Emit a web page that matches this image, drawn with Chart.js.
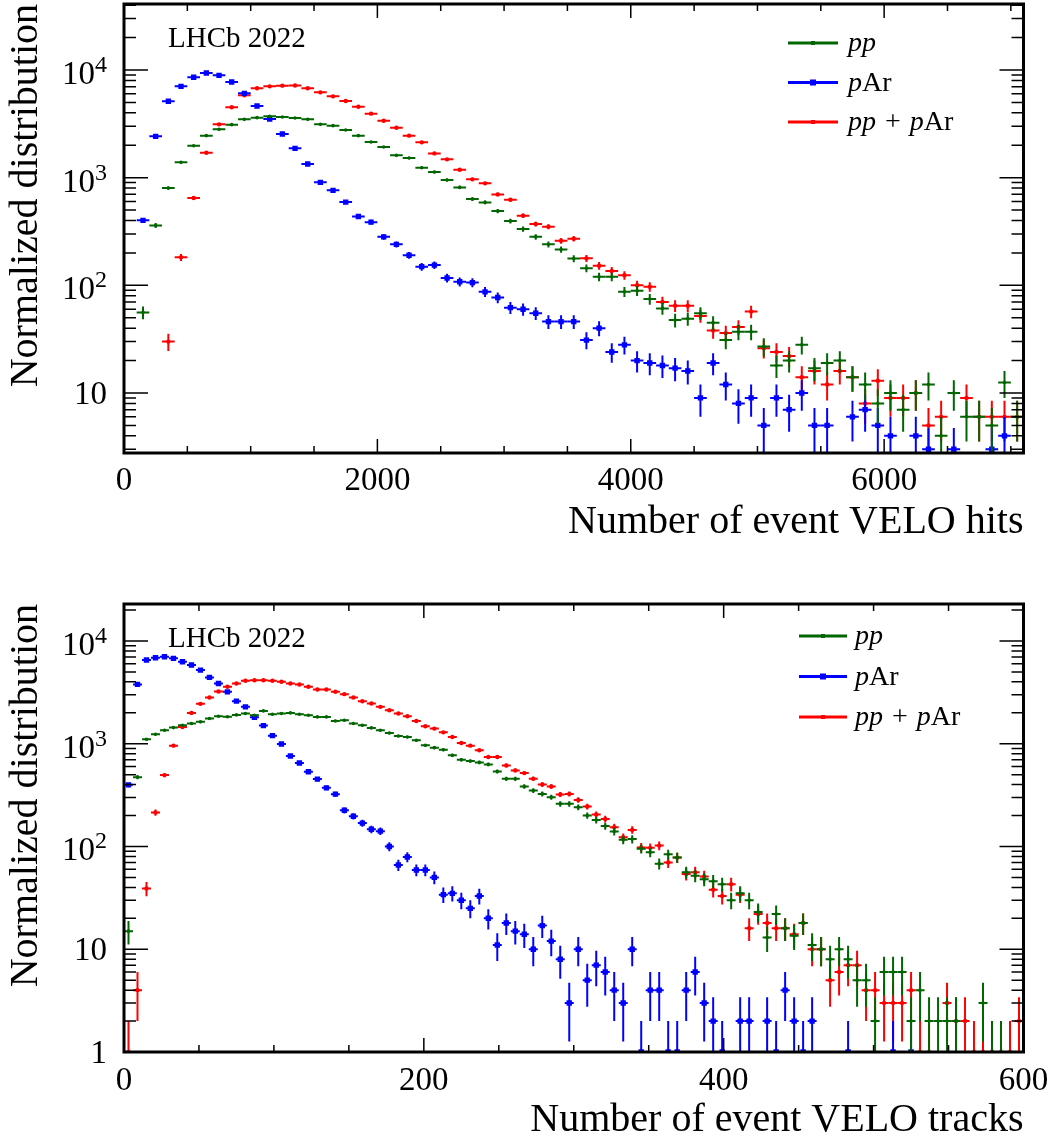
<!DOCTYPE html>
<html>
<head>
<meta charset="utf-8">
<script src="https://cdn.jsdelivr.net/npm/chart.js@4.4.1/dist/chart.umd.min.js"></script>
<style>
  html, body { margin: 0; padding: 0; background: #fff; }
  canvas { display: block; }
</style>
</head>
<body>
<canvas id="hitsChart" width="1054" height="571"></canvas>
<canvas id="tracksChart" width="1054" height="571"></canvas>
<script>
// ---- data: bin centres ----
const hitsBins = [
  150, 250, 350, 450, 550, 650, 750, 850, 950, 1050,
  1150, 1250, 1350, 1450, 1550, 1650, 1750, 1850, 1950, 2050,
  2150, 2250, 2350, 2450, 2550, 2650, 2750, 2850, 2950, 3050,
  3150, 3250, 3350, 3450, 3550, 3650, 3750, 3850, 3950, 4050,
  4150, 4250, 4350, 4450, 4550, 4650, 4750, 4850, 4950, 5050,
  5150, 5250, 5350, 5450, 5550, 5650, 5750, 5850, 5950, 6050,
  6150, 6250, 6350, 6450, 6550, 6650, 6750, 6850, 6950, 7050
];
const tracksBins = [
  3, 9, 15, 21, 27, 33, 39, 45, 51, 57,
  63, 69, 75, 81, 87, 93, 99, 105, 111, 117,
  123, 129, 135, 141, 147, 153, 159, 165, 171, 177,
  183, 189, 195, 201, 207, 213, 219, 225, 231, 237,
  243, 249, 255, 261, 267, 273, 279, 285, 291, 297,
  303, 309, 315, 321, 327, 333, 339, 345, 351, 357,
  363, 369, 375, 381, 387, 393, 399, 405, 411, 417,
  423, 429, 435, 441, 447, 453, 459, 465, 471, 477,
  483, 489, 495, 501, 507, 513, 519, 525, 531, 537,
  543, 549, 555, 561, 567, 573, 579, 585, 591, 597
];

// ---- data: VELO hits (top panel) ----
const hitsPP = [
  56, 360, 800, 1387, 1981, 2454, 2810, 3105, 3478, 3606,
  3710, 3657, 3580, 3478, 3126, 3040, 2770, 2454, 2143, 1925,
  1610, 1521, 1237, 1127, 950, 812, 632, 589, 490, 395,
  333, 282, 240, 215, 177, 144, 120, 120, 87, 89,
  74.5, 61, 47.5, 49, 55, 45, 31, 37, 37, 27,
  18, 20, 28, 17, 19, 20, 14, 12, 8, 10,
  7, 10, 12, 4, 10, 6, 6, 5, 12.5, 6
];
const hitsPAr = [
  401, 2418, 5117, 7047, 8550, 9380, 8920, 7735, 6070, 4628,
  3503, 2542, 1871, 1338, 904, 762, 593, 436, 386, 282,
  240, 190, 149, 154, 117, 108, 106, 87, 77, 62,
  60, 55, 46, 46, 46, 31, 40, 24, 28, 20,
  19, 18, 17, 16, 9, 19, 12, 8, 9, 5,
  9, 7, 10, 5, 5, null, 6, 7, 5, 4,
  null, 4, 3, null, 3, null, null, 3, 4, null
];
const hitsSum = [
  null, null, 30, 182, 646, 1705, 3126, 4500, 5815, 6758,
  7047, 7155, 7180, 6760, 6200, 5690, 5150, 4560, 3930, 3380,
  2911, 2454, 2128, 1680, 1479, 1185, 964, 885, 699, 623,
  443, 371, 350, 259, 271, 178, 152, 136, 124, 100,
  97, 70, 64.5, 64.5, 52, 38, 36, 41, 57, 26,
  24, 22, 14, 16, 12, 16, 14, 8, 13, 9,
  9, 10, 5, 6, null, 9, 6, 6, 6, 6
];

// ---- data: VELO tracks (bottom panel) ----
const tracksPP = [
  15, 473, 1104, 1236, 1352, 1436, 1513, 1571, 1632, 1758,
  1852, 1830, 1908, 1966, 1894, 2088, 1937, 1966, 1995, 1937,
  1894, 1825, 1825, 1667, 1690, 1571, 1513, 1426, 1352, 1273,
  1190, 1164, 1080, 965, 916, 875, 771, 699, 678, 658,
  629, 537, 456, 455, 384, 351, 325, 302, 260, 260,
  241, 200, 181, 158, 140, 116, 118, 95, 88, 68,
  84, 78, 56, 52, 48, 46, 43, 30, 35, 30,
  23, 13, 22, 16, 13.5, 18, 11, 10, 8, 10,
  8, 5, 5, 2, 6, 6, 6, 2, 4, 2,
  2, 2, 2, null, null, 3, 1, 1, null, null
];
const tracksPAr = [
  398, 3776, 6524, 6875, 7030, 6776, 6282, 5830, 5207, 4419,
  3860, 3200, 2595, 2285, 1811, 1501, 1199, 994, 759, 649,
  534, 453, 372, 323, 225, 197, 169, 147, 141, 100,
  66, 79, 59, 59, 50, 34, 35, 30, 25, 33,
  20, 11, 18, 15, 14, 10, 17, 12, 8, 3,
  10, 5, 7, 6, 4, 3, 10, 1, 4, 4,
  1, 1, 4, 6, 3, 2, 1, null, 2, 2,
  null, 2, 1, 4, 2, 1, 2, null, null, null,
  1, null, null, null, null, 1, null, 1, null, null,
  null, null, null, null, null, null, null, null, null, null
];
const tracksSum = [
  1, 4, 39, 214, 495, 958, 1457, 1995, 2443, 2818,
  3225, 3581, 3860, 4100, 4150, 4150, 4100, 4010, 3860, 3776,
  3581, 3373, 3373, 3200, 3037, 2818, 2595, 2462, 2285, 2119,
  1966, 1852, 1667, 1479, 1403, 1290, 1164, 1017, 958, 863,
  742, 742, 615, 550, 518, 456, 401, 384, 321, 325,
  284, 245, 205, 185, 154, 123, 145, 98, 97, 102,
  70, 78, 54, 56, 51, 38, 33, 43, 34, 16,
  22, 18, 16, 16, 14, 18, 10, 10, 5, 6,
  7, 7, 4, 4, 3, 3, 3, 4, 1, 1,
  null, 3, 2, 2, 1, 1, 1, 1, 1, 2
];

const seriesNames = ['pp', 'pAr', 'pp + pAr'];
const hitsXTicks = [0, 2000, 4000, 6000];
const tracksXTicks = [0, 200, 400, 600];
const hitsYTicks = [10, 100, 1000, 10000];
const tracksYTicks = [1, 10, 100, 1000, 10000];

// ---- styling ----
const FONT = '"Liberation Serif", "Times New Roman", serif';
const GREEN = '#006600';
const BLUE = '#0000ff';
const RED = '#ff0000';

const toPoints = (xs, ys) => xs.map((x, i) => ({x: x, y: ys[i]}));

// Poisson-style error bars (sqrt of the content) plus bin-width bars
const errorBars = {
  id: 'errorBars',
  beforeDatasetDraw(chart, args) {
    const ds = chart.data.datasets[args.index];
    const {ctx, chartArea, scales: {x, y}} = chart;
    const pts = ds.data;
    const half = (pts[1].x - pts[0].x) / 2;
    ctx.save();
    ctx.beginPath();
    ctx.rect(chartArea.left, chartArea.top, chartArea.right - chartArea.left,
             chartArea.bottom - chartArea.top);
    ctx.clip();
    ctx.strokeStyle = ds.borderColor;
    ctx.lineWidth = 2;
    ctx.lineCap = 'butt';
    for (let i = 0; i < pts.length; i++) {
      const p = pts[i];
      if (p.y === null || p.y === undefined) continue;
      const err = Math.sqrt(p.y);
      const lo = p.y - err > 0 ? p.y - err : y.min / 10;
      const px = x.getPixelForValue(p.x);
      const py = y.getPixelForValue(p.y);
      ctx.beginPath();
      ctx.moveTo(x.getPixelForValue(p.x - half), py);
      ctx.lineTo(x.getPixelForValue(p.x + half), py);
      ctx.moveTo(px, y.getPixelForValue(p.y + err));
      ctx.lineTo(px, y.getPixelForValue(lo));
      ctx.stroke();
    }
    ctx.restore();
  }
};

// ROOT-style frame with inner ticks, y labels with exponents, legend, label
const rootFrame = {
  id: 'rootFrame',
  afterDraw(chart, args, opts) {
    const {ctx, chartArea: a, scales: {x, y}} = chart;
    ctx.save();
    ctx.strokeStyle = '#000';

    // x ticks (top and bottom)
    ctx.lineWidth = 1.5;
    ctx.beginPath();
    for (let v = x.min; v <= x.max + 1e-9; v += opts.xMinor) {
      const px = x.getPixelForValue(v);
      const major = Math.abs(v / opts.xMajor - Math.round(v / opts.xMajor)) < 1e-6;
      const len = major ? 14 : 7;
      ctx.moveTo(px, a.bottom); ctx.lineTo(px, a.bottom - len);
      ctx.moveTo(px, a.top); ctx.lineTo(px, a.top + len);
    }
    // y log ticks (left and right)
    for (let d = 1e-1; d <= y.max; d *= 10) {
      for (let m = 1; m <= 9; m++) {
        const v = d * m;
        if (v < y.min || v > y.max) continue;
        const py = y.getPixelForValue(v);
        const len = m === 1 ? 24 : 12;
        ctx.moveTo(a.left, py); ctx.lineTo(a.left + len, py);
        ctx.moveTo(a.right, py); ctx.lineTo(a.right - len, py);
      }
    }
    ctx.stroke();

    // frame
    ctx.lineWidth = 3;
    ctx.strokeRect(a.left, a.top, a.right - a.left, a.bottom - a.top);

    // y labels, 10^n style
    ctx.fillStyle = '#000';
    ctx.textBaseline = 'alphabetic';
    ctx.textAlign = 'right';
    const labelRight = a.left - 17;
    opts.yTicks.forEach(v => {
      const py = y.getPixelForValue(v);
      const exp = Math.round(Math.log10(v));
      if (exp <= 1) {
        ctx.font = '33px ' + FONT;
        ctx.fillText(String(v), labelRight, py + 11);
      } else {
        ctx.font = '24px ' + FONT;
        const sw = ctx.measureText(String(exp)).width;
        ctx.fillText(String(exp), labelRight, py + 2);
        ctx.font = '33px ' + FONT;
        ctx.fillText('10', labelRight - sw, py + 14);
      }
    });

    // experiment label
    ctx.textAlign = 'left';
    ctx.font = '29px ' + FONT;
    ctx.fillText('LHCb 2022', a.left + 44, a.top + opts.tagDy);

    // legend
    const lg = opts.legend;
    chart.data.datasets.forEach((ds, i) => {
      const ly = a.top + lg.top + i * lg.step;
      ctx.strokeStyle = ds.borderColor;
      ctx.lineWidth = 3;
      ctx.beginPath();
      ctx.moveTo(lg.x0, ly); ctx.lineTo(lg.x1, ly);
      ctx.stroke();
      ctx.fillStyle = ds.borderColor;
      const ms = ds.pointStyle === 'rect' ? 6 : 4;
      ctx.fillRect((lg.x0 + lg.x1) / 2 - ms / 2, ly - ms / 2, ms, ms);
      // text: p italic, the rest upright
      ctx.fillStyle = '#000';
      ctx.textBaseline = 'middle';
      let tx = lg.tx;
      for (const ch of ds.label) {
        ctx.font = (ch === 'p' ? 'italic ' : '') + '28px ' + FONT;
        ctx.fillText(ch, tx, ly + 1);
        tx += ctx.measureText(ch).width + (ch === ' ' ? 2 : 0);
      }
    });
    ctx.restore();
  }
};

function makeChart(id, cfg) {
  const datasets = [
    {label: seriesNames[0], data: toPoints(cfg.bins, cfg.series[0]),
     borderColor: GREEN, backgroundColor: GREEN, pointStyle: 'circle',
     pointRadius: 1.8},
    {label: seriesNames[1], data: toPoints(cfg.bins, cfg.series[1]),
     borderColor: BLUE, backgroundColor: BLUE, pointStyle: 'rect',
     pointRadius: 3.8},
    {label: seriesNames[2], data: toPoints(cfg.bins, cfg.series[2]),
     borderColor: RED, backgroundColor: RED, pointStyle: 'circle',
     pointRadius: 2.2}
  ];
  datasets.forEach(d => { d.showLine = false; d.pointBorderWidth = 0; d.pointHoverRadius = 0; });

  return new Chart(document.getElementById(id), {
    type: 'scatter',
    data: {datasets: datasets},
    options: {
      responsive: false,
      animation: false,
      events: [],
      layout: {padding: {left: 0, right: 30.5, top: cfg.padTop, bottom: 0}},
      plugins: {
        legend: {display: false},
        tooltip: {enabled: false},
        rootFrame: {
          xMajor: cfg.xMajor, xMinor: cfg.xMinor, yTicks: cfg.yTicks,
          tagDy: 43, legend: cfg.legend
        }
      },
      scales: {
        x: {
          type: 'linear', min: cfg.xMin, max: cfg.xMax,
          grid: {display: false, drawTicks: false},
          border: {display: false},
          afterBuildTicks: s => { s.ticks = cfg.xTicks.map(v => ({value: v})); },
          ticks: {autoSkip: false, maxRotation: 0, padding: 5, color: '#000',
                  callback: v => String(v),
                  font: {family: FONT, size: 33, lineHeight: cfg.tickLH}},
          title: {display: true, text: cfg.xTitle, align: 'end', color: '#000',
                  font: {family: FONT, size: 40},
                  padding: {top: 0, bottom: cfg.xTitlePad}},
          afterFit: s => { s.height = cfg.xAxisH; }
        },
        y: {
          type: 'logarithmic', min: cfg.yMin, max: cfg.yMax,
          grid: {display: false, drawTicks: false},
          border: {display: false},
          ticks: {display: false},
          title: {display: true, text: 'Normalized distribution', align: 'end',
                  color: '#000', font: {family: FONT, size: 40},
                  padding: {top: 2.5, bottom: 0}},
          afterFit: s => { s.width = 124; }
        }
      }
    },
    plugins: [errorBars, rootFrame]
  });
}

makeChart('hitsChart', {
  bins: hitsBins, series: [hitsPP, hitsPAr, hitsSum], xTicks: hitsXTicks,
  xMin: 0, xMax: 7100, xMajor: 2000, xMinor: 500,
  yMin: 2.77, yMax: 41000, yTicks: hitsYTicks,
  xTitle: 'Number of event VELO hits', xTitlePad: 25, xAxisH: 118,
  tickLH: 1.4, padTop: 4,
  legend: {x0: 788, x1: 838, tx: 848, top: 39, step: 39.5}
});

makeChart('tracksChart', {
  bins: tracksBins, series: [tracksPP, tracksPAr, tracksSum], xTicks: tracksXTicks,
  xMin: 0, xMax: 600, xMajor: 200, xMinor: 50,
  yMin: 1, yMax: 22900, yTicks: tracksYTicks,
  xTitle: 'Number of event VELO tracks', xTitlePad: -2, xAxisH: 90,
  tickLH: 1.45, padTop: 33,
  legend: {x0: 799, x1: 847, tx: 855, top: 32, step: 40.5}
});
</script>
</body>
</html>
